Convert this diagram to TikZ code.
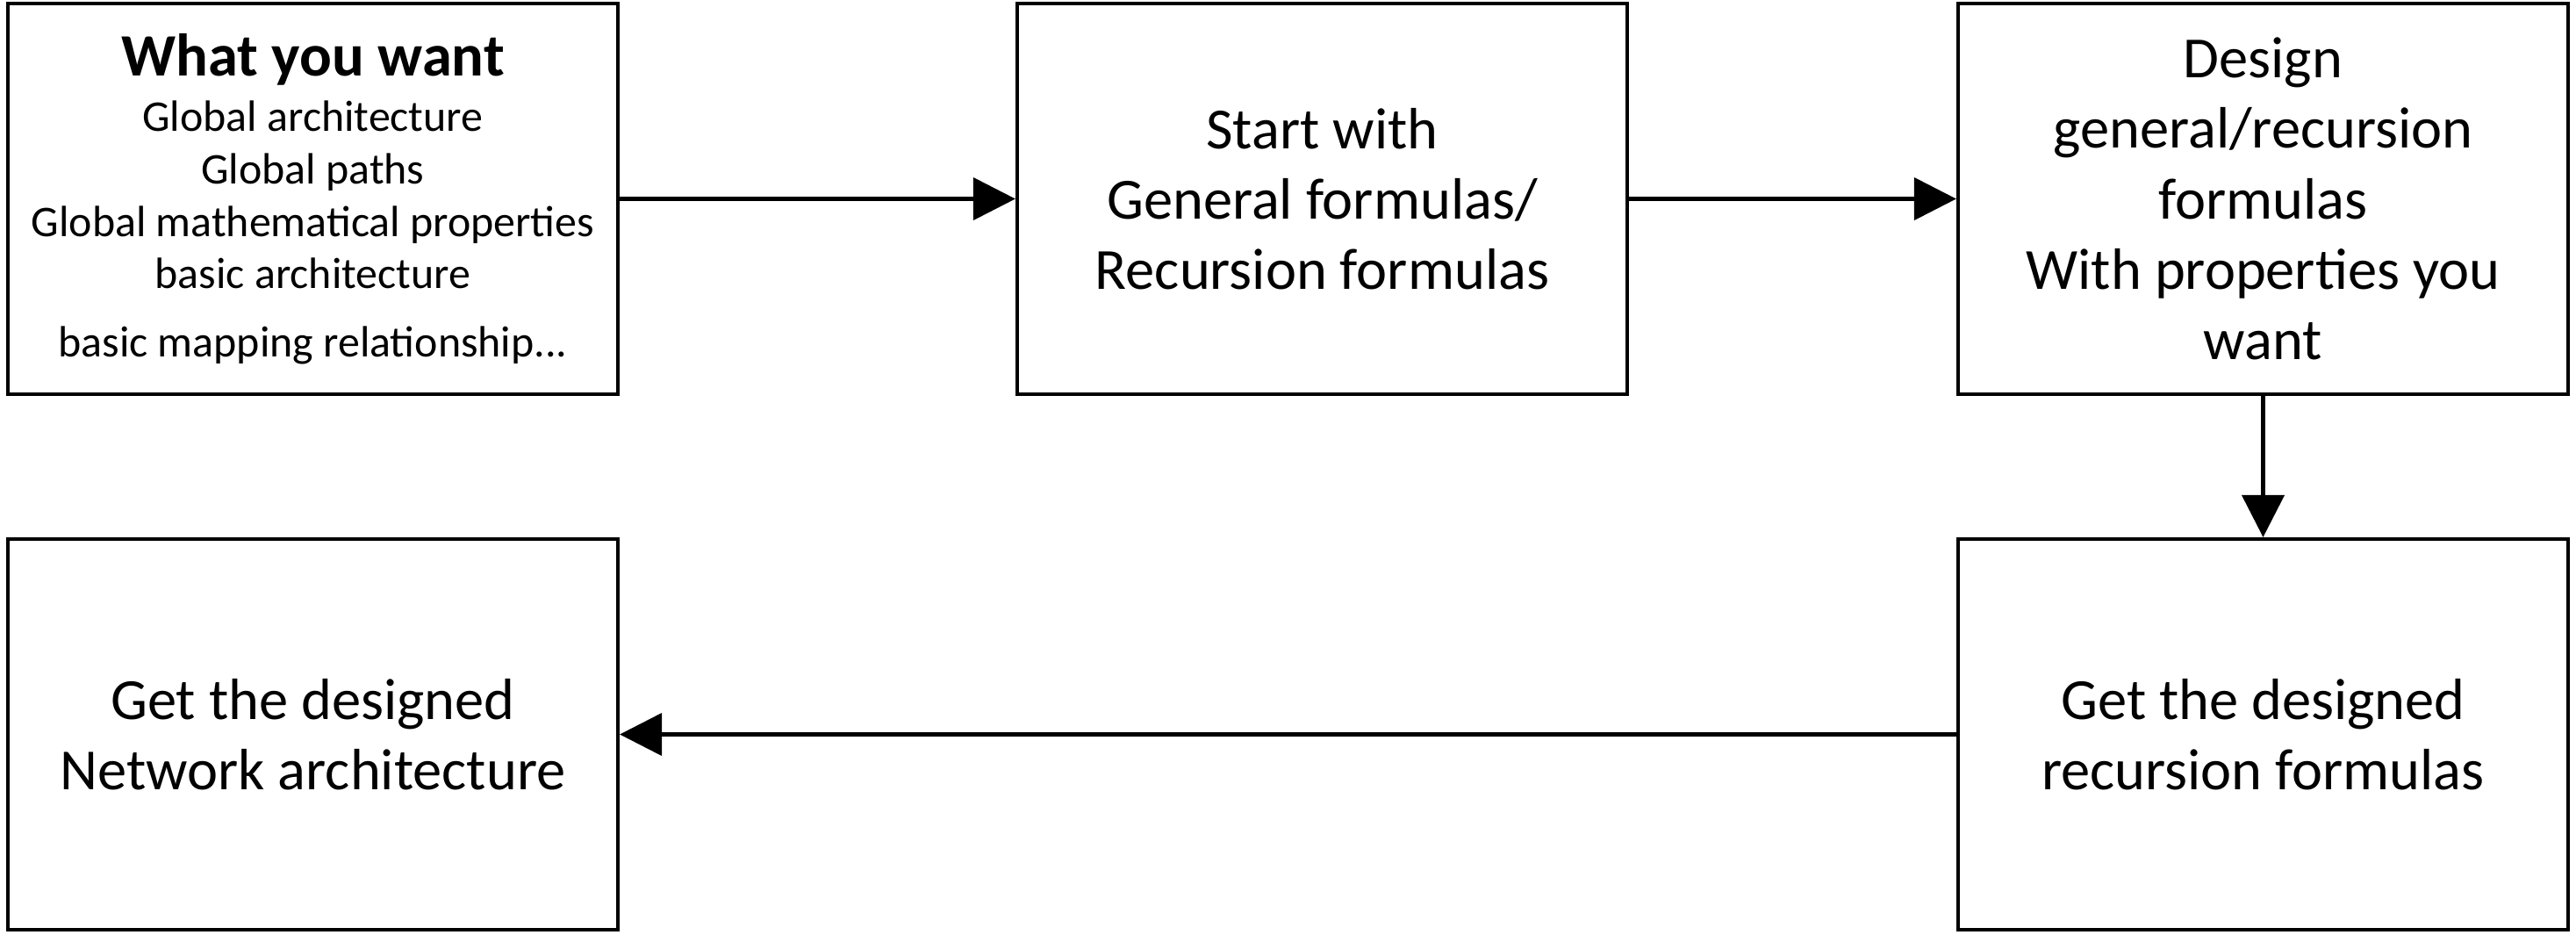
\documentclass[tikz,border=0pt]{standalone}
\usepackage{fontspec}
\setmainfont{Carlito}
\usetikzlibrary{arrows.meta}
\tikzset{
  stage/.style={draw, line width=1.2pt, minimum width=6.95cm, minimum height=4.45cm,
    inner sep=0pt, align=center, font=\fontsize{18.9}{22.8}\selectfont},
  flow/.style={line width=1.2pt, -{Triangle[length=0.48cm,width=0.48cm]}}
}
\begin{document}
\begin{tikzpicture}
\useasboundingbox (0,0) rectangle (29.35,-10.65);
\node[stage, font=\fontsize{14.2}{17}\selectfont] (want) at (3.565,-2.265)
  {{\fontsize{19.5}{17}\selectfont\bfseries What you want}\\[1pt]
  Global architecture\\
  Global paths\\
  Global mathematical properties\\
  basic architecture\\[5pt]
  basic mapping relationship...};
\node[stage] (start) at (15.065,-2.265) {Start with\\General formulas/\\Recursion formulas};
\node[stage] (design) at (25.785,-2.265) {Design\\general/recursion\\formulas\\With properties you\\want};
\node[stage] (getrec) at (25.785,-8.365) {Get the designed\\recursion formulas};
\node[stage] (getnet) at (3.565,-8.365) {Get the designed\\Network architecture};
\draw[flow] (want) -- (start);
\draw[flow] (start) -- (design);
\draw[flow] (design) -- (getrec);
\draw[flow] (getrec) -- (getnet);
\end{tikzpicture}
\end{document}
